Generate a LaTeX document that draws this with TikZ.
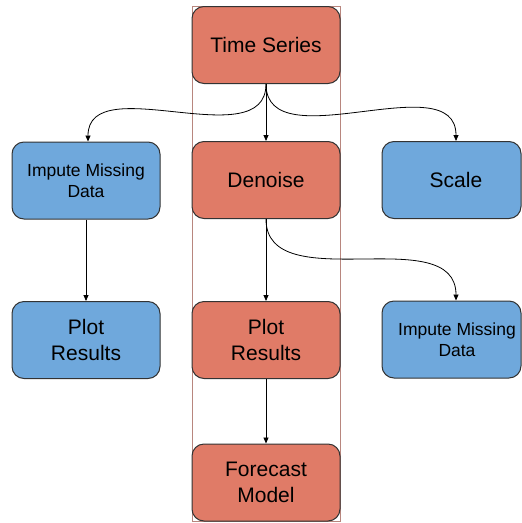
\documentclass[tikz,border=0pt]{standalone}
\usepackage{fontspec}
\setmainfont{Liberation Sans}
\usetikzlibrary{arrows.meta}
\definecolor{boxred}{HTML}{E07B67}
\definecolor{boxblue}{HTML}{6FA8DC}
\definecolor{frameline}{HTML}{B8867E}

\begin{document}
\begin{tikzpicture}[x=1pt,y=-1pt,
    box/.style={draw=black!80,line width=1pt,rounded corners=12pt,minimum width=148pt,
      minimum height=77pt,align=center,font=\fontsize{21}{26}\selectfont},
    small/.style={font=\fontsize{17.5}{21}\selectfont},
    redbox/.style={box,fill=boxred},
    bluebox/.style={box,fill=boxblue},
    link/.style={-{Triangle[length=6pt,width=5pt]},line width=0.8pt}]
  \useasboundingbox (0,0) rectangle (522,523);
  % frame round the middle column
  \draw[frameline,line width=0.9pt] (192,6) rectangle (340,521);
  % boxes
  \node[redbox] (series) at (266,45) {Time Series};
  \node[bluebox,small] (imputeL) at (86,180.5) {Impute Missing\\Data};
  \node[redbox] (denoise) at (266,180) {Denoise};
  \node[bluebox,minimum width=139pt] (scale) at (451.5,180) {\hspace*{9pt}Scale};
  \node[bluebox] (plotL) at (86,340) {Plot\\Results};
  \node[redbox] (plotM) at (266,340) {Plot\\Results};
  \node[bluebox,small,minimum width=139pt] (imputeR) at (451.5,339.5)
    {\hspace*{11pt}Impute Missing\\\hspace*{11pt}Data};
  \node[redbox] (forecast) at (266,482.5) {Forecast\\Model};
  % links
  \draw[link] (series.south) to[out=-90,in=90] ([xshift=2pt]imputeL.north);
  \draw[link] (series) -- (denoise);
  \draw[link] (series.south) to[out=-90,in=90] ([xshift=4.5pt]scale.north);
  \draw[link] (imputeL) -- (plotL);
  \draw[link] (denoise) -- (plotM);
  \draw[link] (denoise.south) to[out=-90,in=90] ([xshift=4.5pt]imputeR.north);
  \draw[link] (plotM) -- (forecast);
\end{tikzpicture}
\end{document}
